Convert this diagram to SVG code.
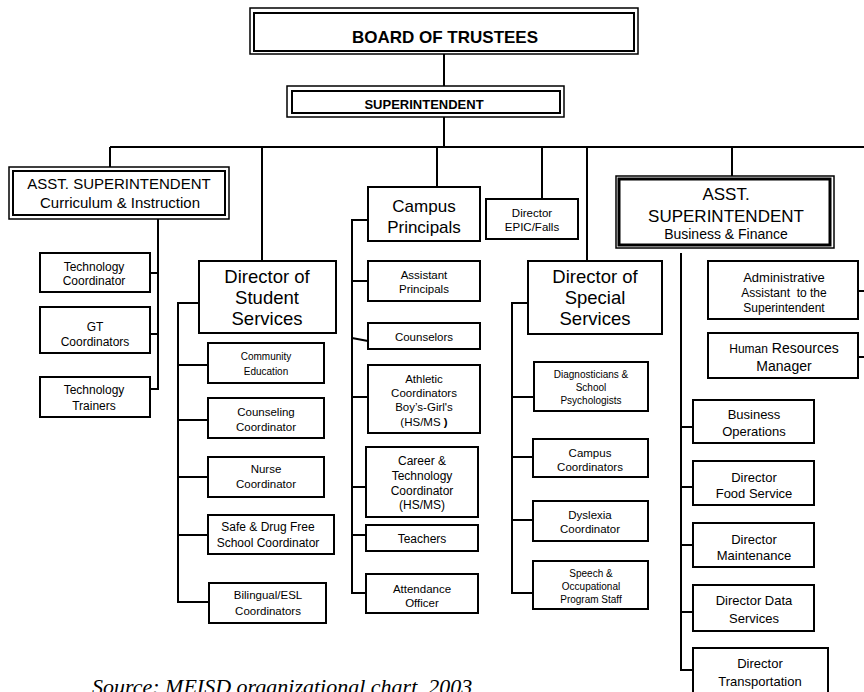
<svg xmlns="http://www.w3.org/2000/svg" width="864" height="692" viewBox="0 0 864 692">
  <style>
    .box { fill: #fff; stroke: #000; stroke-width: 2; }
    .outer { fill: #fff; stroke: #000; stroke-width: 1.5; }
    .inner { fill: none; stroke: #000; stroke-width: 2; }
    .heavy { fill: none; stroke: #000; stroke-width: 3; }
    #connectors line { stroke: #000; stroke-width: 2; fill: none; }
    text { font-family: "Liberation Sans", Arial, sans-serif; text-anchor: middle; fill: #000; }
    .b { font-weight: bold; }
    .s10 { font-size: 10px; }
    .s11 { font-size: 11.5px; }
    .s12 { font-size: 12px; }
    .s13 { font-size: 13px; }
    .s14 { font-size: 14px; }
    .s15 { font-size: 15px; }
    .s17 { font-size: 17px; }
    .s18 { font-size: 18.5px; }
    .caption { font-family: "Liberation Serif", "Times New Roman", serif; font-style: italic; font-size: 22px; text-anchor: start; }
  </style>

  <!-- reporting lines -->
  <g id="connectors">
    <line x1="444" y1="54" x2="444" y2="86"/>
    <line x1="444" y1="117" x2="444" y2="147"/>
    <line x1="110" y1="147" x2="864" y2="147"/>
    <line x1="110" y1="147" x2="110" y2="167"/>
    <line x1="262" y1="147" x2="262" y2="261"/>
    <line x1="437" y1="147" x2="437" y2="187"/>
    <line x1="542" y1="147" x2="542" y2="199"/>
    <line x1="587" y1="147" x2="587" y2="261"/>
    <line x1="732" y1="147" x2="732" y2="176"/>

    <!-- curriculum & instruction -->
    <line x1="158" y1="219" x2="158" y2="389"/>
    <line x1="158" y1="273" x2="150" y2="273"/>
    <line x1="158" y1="334" x2="150" y2="334"/>
    <line x1="159" y1="389" x2="150" y2="389"/>

    <!-- student services -->
    <line x1="178" y1="302" x2="178" y2="603"/>
    <line x1="177" y1="303" x2="199" y2="303"/>
    <line x1="178" y1="365" x2="208" y2="365"/>
    <line x1="178" y1="420" x2="208" y2="420"/>
    <line x1="178" y1="477" x2="208" y2="477"/>
    <line x1="178" y1="535" x2="208" y2="535"/>
    <line x1="177" y1="602" x2="209" y2="602"/>

    <!-- campus principals -->
    <line x1="352" y1="219" x2="352" y2="594"/>
    <line x1="351" y1="220" x2="368" y2="220"/>
    <line x1="352" y1="281" x2="368" y2="281"/>
    <line x1="352" y1="338" x2="368" y2="341"/>
    <line x1="352" y1="397" x2="368" y2="397"/>
    <line x1="352" y1="487" x2="368" y2="487"/>
    <line x1="352" y1="535" x2="368" y2="535"/>
    <line x1="351" y1="593" x2="366" y2="593"/>

    <!-- special services -->
    <line x1="512" y1="302" x2="512" y2="594"/>
    <line x1="511" y1="303" x2="528" y2="303"/>
    <line x1="512" y1="397" x2="534" y2="397"/>
    <line x1="512" y1="457" x2="533" y2="457"/>
    <line x1="512" y1="520" x2="533" y2="520"/>
    <line x1="511" y1="593" x2="533" y2="593"/>

    <!-- business & finance -->
    <line x1="681" y1="253" x2="681" y2="671"/>
    <line x1="681" y1="427" x2="693" y2="427"/>
    <line x1="681" y1="487" x2="693" y2="487"/>
    <line x1="681" y1="545" x2="693" y2="545"/>
    <line x1="681" y1="612" x2="698" y2="612"/>
    <line x1="680" y1="670" x2="693" y2="670"/>
    <line x1="858" y1="291" x2="864" y2="291"/>
    <line x1="858" y1="357" x2="864" y2="357"/>
  </g>

  <!-- top of the organisation -->
  <g id="board">
    <rect class="outer" x="250" y="8" width="388" height="46"/>
    <rect class="inner" x="254" y="13" width="380" height="38"/>
    <text class="b s17" x="445" y="43">BOARD OF TRUSTEES</text>
  </g>

  <g id="superintendent">
    <rect class="outer" x="287" y="86" width="277" height="31"/>
    <rect class="inner" x="292" y="91" width="268" height="22"/>
    <text class="b s13" x="424" y="109">SUPERINTENDENT</text>
  </g>

  <!-- curriculum & instruction branch -->
  <g id="asst-curriculum">
    <rect class="outer" x="9" y="167" width="220" height="52"/>
    <rect class="inner" x="13" y="171" width="212" height="44"/>
    <text class="s15" x="119" y="189">ASST. SUPERINTENDENT</text>
    <text class="s15" x="120" y="208">Curriculum &amp; Instruction</text>
  </g>

  <g id="technology-coordinator">
    <rect class="box" x="40" y="253" width="110" height="39"/>
    <text class="s12" x="94" y="271">Technology</text>
    <text class="s12" x="94" y="285">Coordinator</text>
  </g>

  <g id="gt-coordinators">
    <rect class="box" x="40" y="307" width="110" height="46"/>
    <text class="s12" x="95" y="331">GT</text>
    <text class="s12" x="95" y="346">Coordinators</text>
  </g>

  <g id="technology-trainers">
    <rect class="box" x="40" y="377" width="110" height="40"/>
    <text class="s12" x="94" y="394">Technology</text>
    <text class="s12" x="94" y="410">Trainers</text>
  </g>

  <!-- student services branch -->
  <g id="student-services">
    <rect class="box" x="199" y="261" width="137" height="72"/>
    <text class="s18" x="267" y="283">Director of</text>
    <text class="s18" x="267" y="304">Student</text>
    <text class="s18" x="267" y="325">Services</text>
  </g>

  <g id="community-education">
    <rect class="box" x="208" y="343" width="116" height="40"/>
    <text class="s10" x="266" y="360">Community</text>
    <text class="s10" x="266" y="375">Education</text>
  </g>

  <g id="counseling-coordinator">
    <rect class="box" x="208" y="398" width="116" height="40"/>
    <text class="s11" x="266" y="416">Counseling</text>
    <text class="s11" x="266" y="431">Coordinator</text>
  </g>

  <g id="nurse-coordinator">
    <rect class="box" x="208" y="457" width="116" height="40"/>
    <text class="s11" x="266" y="473">Nurse</text>
    <text class="s11" x="266" y="488">Coordinator</text>
  </g>

  <g id="safe-drug-free">
    <rect class="box" x="208" y="515" width="126" height="39"/>
    <text class="s12" x="268" y="531">Safe &amp; Drug Free</text>
    <text class="s12" x="268" y="547">School Coordinator</text>
  </g>

  <g id="bilingual-esl">
    <rect class="box" x="209" y="583" width="117" height="40"/>
    <text class="s11" x="268" y="599">Bilingual/ESL</text>
    <text class="s11" x="268" y="615">Coordinators</text>
  </g>

  <!-- campus branch -->
  <g id="campus-principals">
    <rect class="box" x="368" y="187" width="112" height="54"/>
    <text class="s17" x="424" y="212">Campus</text>
    <text class="s17" x="424" y="233">Principals</text>
  </g>

  <g id="director-epic">
    <rect class="box" x="486" y="199" width="92" height="40"/>
    <text class="s11" x="532" y="217">Director</text>
    <text class="s11" x="532" y="231">EPIC/Falls</text>
  </g>

  <g id="assistant-principals">
    <rect class="box" x="368" y="261" width="112" height="40"/>
    <text class="s11" x="424" y="279">Assistant</text>
    <text class="s11" x="424" y="293">Principals</text>
  </g>

  <g id="counselors">
    <rect class="box" x="368" y="323" width="112" height="26"/>
    <text class="s11" x="424" y="341">Counselors</text>
  </g>

  <g id="athletic-coordinators">
    <rect class="box" x="368" y="365" width="112" height="68"/>
    <text class="s11" x="424" y="383">Athletic</text>
    <text class="s11" x="424" y="397">Coordinators</text>
    <text class="s11" x="424" y="411">Boy’s-Girl's</text>
    <text class="s11" x="424" y="426">(HS/MS <tspan class="b">)</tspan></text>
  </g>

  <g id="career-technology">
    <rect class="box" x="366" y="447" width="112" height="70"/>
    <text class="s12" x="422" y="465">Career &amp;</text>
    <text class="s12" x="422" y="480">Technology</text>
    <text class="s12" x="422" y="495">Coordinator</text>
    <text class="s12" x="422" y="509">(HS/MS)</text>
  </g>

  <g id="teachers">
    <rect class="box" x="366" y="525" width="112" height="26"/>
    <text class="s12" x="422" y="543">Teachers</text>
  </g>

  <g id="attendance-officer">
    <rect class="box" x="366" y="574" width="112" height="39"/>
    <text class="s11" x="422" y="593">Attendance</text>
    <text class="s11" x="422" y="607">Officer</text>
  </g>

  <!-- special services branch -->
  <g id="special-services">
    <rect class="box" x="528" y="261" width="134" height="73"/>
    <text class="s18" x="595" y="283">Director of</text>
    <text class="s18" x="595" y="304">Special</text>
    <text class="s18" x="595" y="325">Services</text>
  </g>

  <g id="diagnosticians">
    <rect class="box" x="534" y="362" width="114" height="49"/>
    <text class="s10" x="591" y="378">Diagnosticians &amp;</text>
    <text class="s10" x="591" y="391">School</text>
    <text class="s10" x="591" y="404">Psychologists</text>
  </g>

  <g id="campus-coordinators">
    <rect class="box" x="533" y="439" width="115" height="38"/>
    <text class="s11" x="590" y="457">Campus</text>
    <text class="s11" x="590" y="471">Coordinators</text>
  </g>

  <g id="dyslexia-coordinator">
    <rect class="box" x="533" y="501" width="115" height="40"/>
    <text class="s11" x="590" y="519">Dyslexia</text>
    <text class="s11" x="590" y="533">Coordinator</text>
  </g>

  <g id="speech-occupational">
    <rect class="box" x="533" y="561" width="115" height="48"/>
    <text class="s10" x="591" y="577">Speech &amp;</text>
    <text class="s10" x="591" y="590">Occupational</text>
    <text class="s10" x="591" y="603">Program Staff</text>
  </g>

  <!-- business & finance branch -->
  <g id="asst-business">
    <rect class="outer" x="616" y="176" width="218" height="72"/>
    <rect class="heavy" x="619" y="179" width="211" height="66"/>
    <text class="s17" x="726" y="200">ASST.</text>
    <text class="s17" x="726" y="222">SUPERINTENDENT</text>
    <text class="s14" x="726" y="239">Business &amp; Finance</text>
  </g>

  <g id="administrative-assistant">
    <rect class="box" x="708" y="261" width="150" height="58"/>
    <text class="s13" x="784" y="282">Administrative</text>
    <text class="s12" x="784" y="297" xml:space="preserve">Assistant  to the</text>
    <text class="s12" x="784" y="312">Superintendent</text>
  </g>

  <g id="human-resources">
    <rect class="box" x="708" y="333" width="150" height="45"/>
    <text class="s14" x="784" y="353"><tspan class="s12">Human</tspan> Resources</text>
    <text class="s14" x="784" y="371">Manager</text>
  </g>

  <g id="business-operations">
    <rect class="box" x="693" y="400" width="121" height="43"/>
    <text class="s13" x="754" y="419">Business</text>
    <text class="s13" x="754" y="436">Operations</text>
  </g>

  <g id="food-service">
    <rect class="box" x="693" y="461" width="121" height="44"/>
    <text class="s13" x="754" y="482">Director</text>
    <text class="s13" x="754" y="498">Food Service</text>
  </g>

  <g id="maintenance">
    <rect class="box" x="693" y="523" width="121" height="44"/>
    <text class="s13" x="754" y="544">Director</text>
    <text class="s13" x="754" y="560">Maintenance</text>
  </g>

  <g id="data-services">
    <rect class="box" x="693" y="585" width="121" height="46"/>
    <text class="s13" x="754" y="605">Director Data</text>
    <text class="s13" x="754" y="623">Services</text>
  </g>

  <g id="transportation">
    <rect class="box" x="693" y="648" width="135" height="50"/>
    <text class="s13" x="760" y="668">Director</text>
    <text class="s13" x="760" y="686">Transportation</text>
  </g>

  <text class="caption" x="92" y="694">Source: MEISD organizational chart, 2003</text>
</svg>
